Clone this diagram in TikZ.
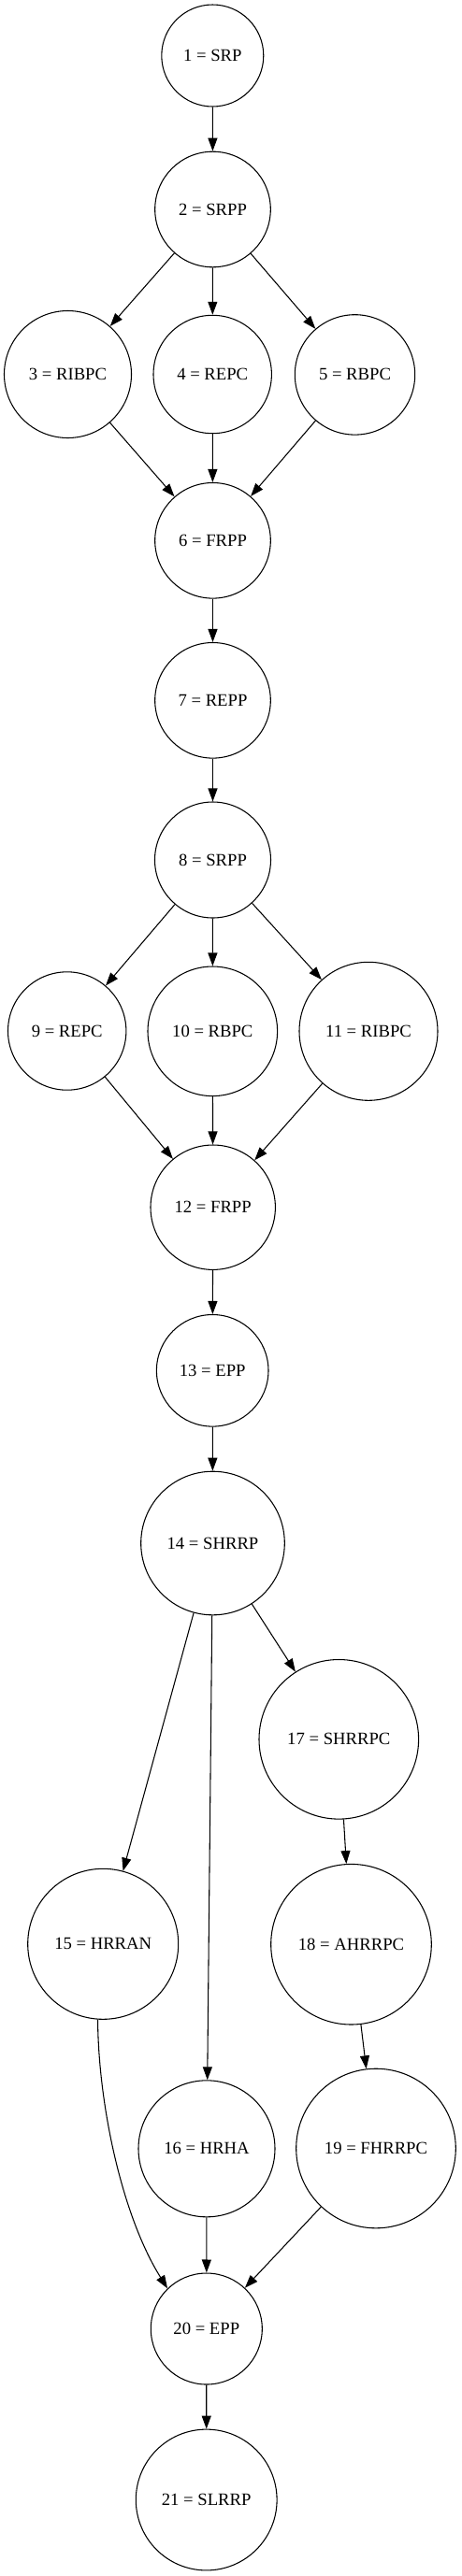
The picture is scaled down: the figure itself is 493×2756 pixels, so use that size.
\documentclass[tikz,border=0pt]{standalone}
\usepackage{fontspec}
\setmainfont{Liberation Serif}
\usetikzlibrary{arrows.meta}
\begin{document}
\begin{tikzpicture}[x=0.75pt,y=-0.75pt,
  circ/.style={circle, draw, line width=0.8pt, minimum size=#1*1.5pt, inner sep=0pt,
    font=\fontsize{14}{16.8}\selectfont},
  edge/.style={line width=0.8pt, -{Triangle[length=10.5pt,width=7.5pt]}}]
\useasboundingbox (0,0) rectangle (493,2756);
\node[circ=54.5] (n1) at (227.3,59.5) {1 = SRP};
\node[circ=61.8] (n2) at (227.5,224) {2 = SRPP};
\node[circ=68] (n3) at (72.5,400.5) {3 = RIBPC};
\node[circ=63.2] (n4) at (227.2,400.5) {4 = REPC};
\node[circ=64.2] (n5) at (379.5,400.9) {5 = RBPC};
\node[circ=61.8] (n6) at (227.5,578.3) {6 = FRPP};
\node[circ=61.8] (n7) at (227.5,749.3) {7 = REPP};
\node[circ=62] (n8) at (227.5,920) {8 = SRPP};
\node[circ=63.2] (n9) at (71.7,1103) {9 = REPC};
\node[circ=69.3] (n10) at (227.3,1103.3) {10 = RBPC};
\node[circ=74] (n11) at (394,1103.3) {11 = RIBPC};
\node[circ=66.7] (n12) at (227.7,1291.7) {12 = FRPP};
\node[circ=59.8] (n13) at (227.2,1466.3) {13 = EPP};
\node[circ=76.8] (n14) at (227.5,1651) {14 = SHRRP};
\node[circ=80.5] (n15) at (110.2,2079.8) {15 = HRRAN};
\node[circ=73] (n16) at (221,2298.8) {16 = HRHA};
\node[circ=85.3] (n17) at (362.3,1860.8) {17 = SHRRPC};
\node[circ=85.8] (n18) at (375.5,2080.2) {18 = AHRRPC};
\node[circ=85.3] (n19) at (402,2298.5) {19 = FHRRPC};
\node[circ=59.5] (n20) at (220.8,2491.5) {20 = EPP};
\node[circ=75.4] (n21) at (220.7,2674.5) {21 = SLRRP};
\draw[edge] (n1) -- (n2);
\draw[edge] (n2) -- (n3);
\draw[edge] (n2) -- (n4);
\draw[edge] (n2) -- (n5);
\draw[edge] (n3) -- (n6);
\draw[edge] (n4) -- (n6);
\draw[edge] (n5) -- (n6);
\draw[edge] (n6) -- (n7);
\draw[edge] (n7) -- (n8);
\draw[edge] (n8) -- (n9);
\draw[edge] (n8) -- (n10);
\draw[edge] (n8) -- (n11);
\draw[edge] (n9) -- (n12);
\draw[edge] (n10) -- (n12);
\draw[edge] (n11) -- (n12);
\draw[edge] (n12) -- (n13);
\draw[edge] (n13) -- (n14);
\draw[edge] (n14) -- (n15);
\draw[edge] (n14) -- (n16);
\draw[edge] (n14) -- (n17);
\draw[edge] (n17) -- (n18);
\draw[edge] (n18) -- (n19);
\draw[edge] (n15.-94) .. controls (105,2250) and (130,2370) .. (n20.134.5);
\draw[edge] (n16) -- (n20);
\draw[edge] (n19) -- (n20);
\draw[edge] (n20) -- (n21);
\end{tikzpicture}
\end{document}
